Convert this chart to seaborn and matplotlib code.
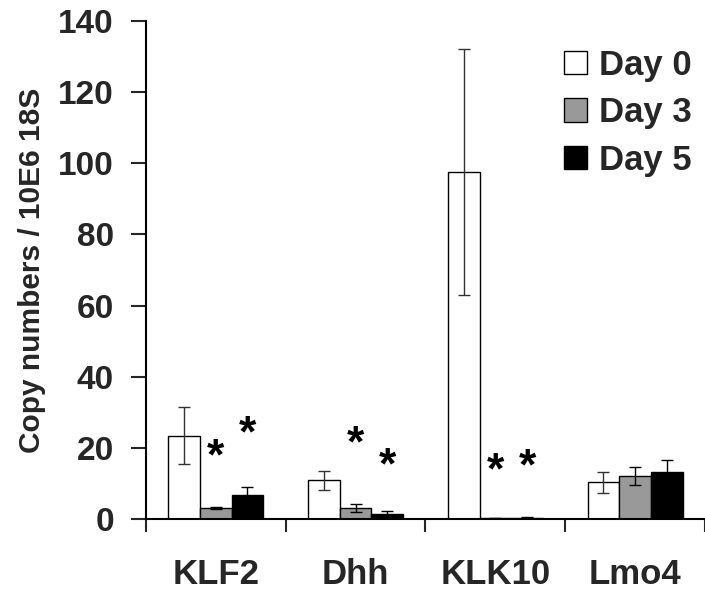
import numpy as np
import pandas as pd
import matplotlib
matplotlib.use("Agg")
import matplotlib.pyplot as plt
import seaborn as sns
from matplotlib.patches import Patch

genes = ["KLF2", "Dhh", "KLK10", "Lmo4"]
days = ["Day 0", "Day 3", "Day 5"]

day0_mean = [23.5, 11.0, 97.5, 10.4]
day3_mean = [3.2, 3.2, 0.3, 12.2]
day5_mean = [6.8, 1.6, 0.5, 13.3]

day0_err = [8.0, 2.7, 34.5, 3.0]
day3_err = [0.4, 1.2, 0.2, 2.6]
day5_err = [2.3, 0.7, 0.3, 3.5]

# asterisk heights (data units), None = no star
day3_star = [20.0, 23.7, 16.2, None]
day5_star = [26.5, 17.4, 17.1, None]

colors = ["#ffffff", "#999999", "#000000"]

df = pd.DataFrame({
    "Gene": genes * 3,
    "Day": [d for d in days for _ in genes],
    "Value": day0_mean + day3_mean + day5_mean,
})
errs = [day0_err, day3_err, day5_err]
stars = [None, day3_star, day5_star]

sns.set_theme(style="white")
plt.rcParams["font.family"] = ["Liberation Sans", "DejaVu Sans"]
plt.rcParams["font.weight"] = "bold"

fig = plt.figure(figsize=(7.05, 5.93), dpi=100)
ax = fig.add_axes([0.207, 0.124, 0.793, 0.841])

sns.barplot(data=df, x="Gene", y="Value", hue="Day", order=genes, hue_order=days,
            palette=colors, width=0.68, gap=0, edgecolor="black", linewidth=1.0,
            errorbar=None, legend=False, ax=ax)

bar_containers = list(ax.containers)
for i, cont in enumerate(bar_containers):
    xs = [p.get_x() + p.get_width() / 2 for p in cont.patches]
    hs = [p.get_height() for p in cont.patches]
    ax.errorbar(xs, hs, yerr=errs[i], fmt="none", ecolor="black" if i else "#333333",
                elinewidth=1.0, capsize=4, capthick=1.0, zorder=3)
    if stars[i] is not None:
        for x, s in zip(xs, stars[i]):
            if s is not None:
                # star glyph sits high in its text box; nudge it down onto the value
                ax.annotate("*", (x, s), xytext=(0, -7), textcoords="offset points",
                            ha="center", va="center", fontsize=32,
                            fontweight="bold", color="black")

ax.set_ylim(0, 140)
ax.set_xlim(-0.5, 3.5)
ax.set_yticks(np.arange(0, 141, 20))
ax.set_xticks(np.arange(len(genes)))
ax.set_xticklabels(genes)
ax.set_xticks(np.arange(-0.5, 4.0, 1.0), minor=True)
ax.tick_params(axis="x", which="major", length=0, pad=28, labelsize=25)
ax.tick_params(axis="x", which="minor", length=9, width=1.5, direction="out", bottom=True)
ax.tick_params(axis="y", length=11, width=1.5, direction="out", left=True, labelsize=24, pad=12)
for lab in ax.get_xticklabels() + ax.get_yticklabels():
    lab.set_fontweight("bold")

ax.set_xlabel("")
ax.set_ylabel("Copy numbers / 10E6 18S", fontsize=21.5, fontweight="bold", labelpad=9)

for side in ["top", "right"]:
    ax.spines[side].set_visible(False)
for side in ["left", "bottom"]:
    ax.spines[side].set_color("black")
    ax.spines[side].set_linewidth(1.5)

handles = [Patch(facecolor=c, edgecolor="black", linewidth=1.0) for c in colors]
leg = ax.legend(handles, days, loc="upper left", bbox_to_anchor=(0.8, 0.918),
                bbox_transform=fig.transFigure, frameon=False,
                prop={"size": 25, "weight": "bold"}, handlelength=0.67, handleheight=0.67,
                handletextpad=0.35, labelspacing=0.42, borderaxespad=0, borderpad=0)

fig.savefig("out.png", dpi=100, facecolor="white")
